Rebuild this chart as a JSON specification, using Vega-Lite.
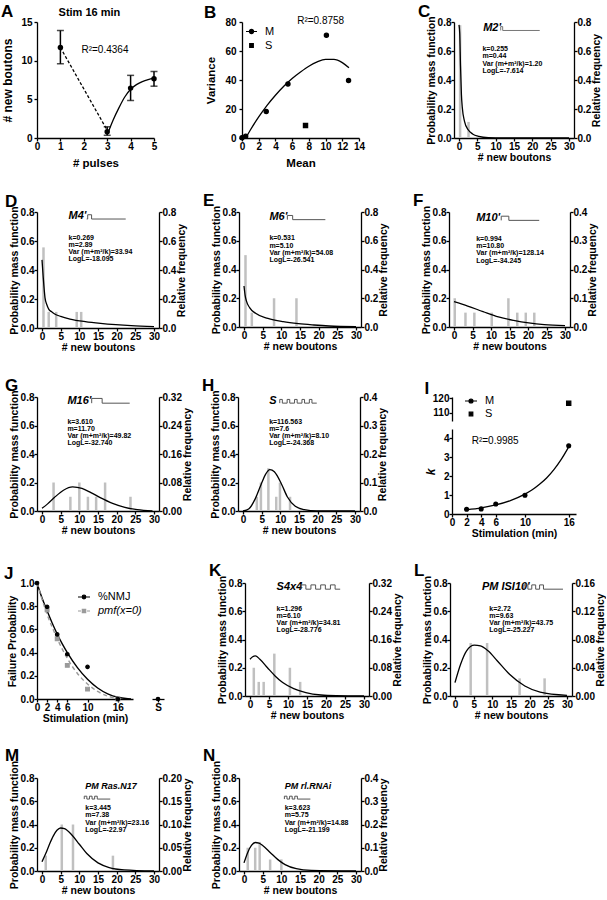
{
"$schema":"https://vega.github.io/schema/vega-lite/v6.json",
"background":"white",
"padding":{"left":0,"top":2,"right":0,"bottom":0},
"config":{
 "font":"Liberation Sans",
 "view":{"stroke":null},
 "axis":{"labelFont":"Liberation Sans","labelFontSize":10,"labelFontWeight":"bold","labelColor":"black","titleFont":"Liberation Sans","titleFontSize":10.5,"titleFontWeight":"bold","titleColor":"black","domainColor":"black","domainWidth":1.3,"tickColor":"black","tickWidth":1.3,"tickSize":3,"grid":false,"labelFlush":false,"labelPadding":0,"titlePadding":1,"labelOverlap":false},
 "title":{"anchor":"start","frame":"bounds","fontSize":17,"fontWeight":"bold","offset":-5,"dx":-8,"color":"black","font":"Liberation Sans"},
 "legend":{"labelFont":"Liberation Sans","labelFontSize":11,"labelColor":"black","padding":0,"rowPadding":3,"labelOffset":7}
},
"datasets":{
 "A_pts":[{"pulses":1,"boutons":11.7,"low":9.6,"high":13.9},{"pulses":3,"boutons":0.8,"low":0.35,"high":1.45},{"pulses":4,"boutons":6.45,"low":4.85,"high":8.1},{"pulses":5,"boutons":7.65,"low":6.7,"high":8.6}],
 "A_dash":[{"pulses":1,"boutons":11.7},{"pulses":3,"boutons":1.0}],
 "A_fit":[{"pulses":3,"boutons":0.4},{"pulses":3.25,"boutons":2.3},{"pulses":3.5,"boutons":3.9},{"pulses":3.75,"boutons":5.3},{"pulses":4,"boutons":6.3},{"pulses":4.25,"boutons":6.9},{"pulses":4.5,"boutons":7.3},{"pulses":4.75,"boutons":7.55},{"pulses":5,"boutons":7.7}],
 "B_pts":[{"mean":0,"variance":0.2,"seriesB":"M"},{"mean":0.44,"variance":1.2,"seriesB":"M"},{"mean":2.9,"variance":18.3,"seriesB":"M"},{"mean":5.5,"variance":37.2,"seriesB":"M"},{"mean":10.1,"variance":70.8,"seriesB":"M"},{"mean":12.75,"variance":39.7,"seriesB":"M"},{"mean":7.6,"variance":8.6,"seriesB":"S"}],
 "B_fit":[{"mean":0.5,"variance":0.5},{"mean":1,"variance":5.5},{"mean":2,"variance":14.5},{"mean":3,"variance":22.5},{"mean":4,"variance":29.5},{"mean":5,"variance":35.7},{"mean":6,"variance":41},{"mean":7,"variance":45.5},{"mean":8,"variance":49.5},{"mean":9,"variance":52.5},{"mean":10,"variance":54.2},{"mean":11,"variance":54.2},{"mean":12,"variance":52},{"mean":12.8,"variance":48.5}],
 "C_bars":[{"x":0.3,"freq":0.778},{"x":2.6,"freq":0.111}],
 "C_pmf":[{"x":0,"pmf":0.78},{"x":0.2,"pmf":0.72},{"x":0.41,"pmf":0.5},{"x":0.66,"pmf":0.3},{"x":0.9,"pmf":0.21},{"x":1.5,"pmf":0.115},{"x":2.5,"pmf":0.057},{"x":3.7,"pmf":0.028},{"x":5.4,"pmf":0.011},{"x":8,"pmf":0.002},{"x":12,"pmf":0},{"x":30,"pmf":0}],
 "D_bars":[{"x":0.4,"freq":0.556},{"x":1.8,"freq":0.111},{"x":3.8,"freq":0.111},{"x":9.3,"freq":0.111},{"x":10.5,"freq":0.111}],
 "D_pmf":[{"x":0,"pmf":0.47},{"x":0.3,"pmf":0.36},{"x":0.8,"pmf":0.21},{"x":1.3,"pmf":0.16},{"x":1.8,"pmf":0.13},{"x":2.5,"pmf":0.113},{"x":3.4,"pmf":0.097},{"x":5,"pmf":0.08},{"x":7.5,"pmf":0.062},{"x":11.6,"pmf":0.044},{"x":15.7,"pmf":0.032},{"x":19.8,"pmf":0.023},{"x":23.9,"pmf":0.016},{"x":30,"pmf":0.009}],
 "E_bars":[{"x":0.4,"freq":0.5},{"x":2.1,"freq":0.1},{"x":8.05,"freq":0.2},{"x":14.05,"freq":0.2}],
 "E_pmf":[{"x":0,"pmf":0.285},{"x":0.3,"pmf":0.22},{"x":0.66,"pmf":0.18},{"x":1.5,"pmf":0.135},{"x":3.1,"pmf":0.095},{"x":6.4,"pmf":0.06},{"x":10.5,"pmf":0.037},{"x":14.6,"pmf":0.023},{"x":18.7,"pmf":0.014},{"x":22.8,"pmf":0.007},{"x":30,"pmf":0.002}],
 "F_bars":[{"x":0.2,"freq":0.1},{"x":3.1,"freq":0.05},{"x":5.5,"freq":0.05},{"x":10.2,"freq":0.05},{"x":14.7,"freq":0.1},{"x":17.1,"freq":0.05},{"x":19.4,"freq":0.05},{"x":21.7,"freq":0.05}],
 "F_pmf":[{"x":0,"pmf":0.176},{"x":3.7,"pmf":0.146},{"x":7.85,"pmf":0.107},{"x":12,"pmf":0.07},{"x":16.1,"pmf":0.046},{"x":20.2,"pmf":0.028},{"x":24.4,"pmf":0.016},{"x":30,"pmf":0.009}],
 "G_bars":[{"x":3.1,"freq":0.08},{"x":7.6,"freq":0.04},{"x":10.0,"freq":0.08},{"x":12.3,"freq":0.04},{"x":14.5,"freq":0.04},{"x":16.9,"freq":0.08},{"x":23.7,"freq":0.04}],
 "G_pmf":[{"x":0,"pmf":0.019},{"x":1.5,"pmf":0.05},{"x":3.3,"pmf":0.094},{"x":5.75,"pmf":0.146},{"x":8.2,"pmf":0.169},{"x":10.7,"pmf":0.158},{"x":13.1,"pmf":0.129},{"x":15.6,"pmf":0.094},{"x":18.9,"pmf":0.054},{"x":22.2,"pmf":0.026},{"x":25.5,"pmf":0.009},{"x":29.6,"pmf":0.001}],
 "H_bars":[{"x":3.7,"freq":0.05},{"x":4.8,"freq":0.1},{"x":6.8,"freq":0.15},{"x":8.9,"freq":0.05},{"x":9.9,"freq":0.1},{"x":12.6,"freq":0.05}],
 "H_pmf":[{"x":0,"pmf":0},{"x":1.6,"pmf":0.016},{"x":3.3,"pmf":0.087},{"x":4.9,"pmf":0.19},{"x":6.0,"pmf":0.255},{"x":7.2,"pmf":0.29},{"x":8.4,"pmf":0.275},{"x":10.3,"pmf":0.19},{"x":11.9,"pmf":0.098},{"x":14,"pmf":0.033},{"x":16.4,"pmf":0.009},{"x":19.7,"pmf":0},{"x":30,"pmf":0}],
 "I_M":[{"stim":2,"k":0.255,"seriesI":"M"},{"stim":4,"k":0.269,"seriesI":"M"},{"stim":6,"k":0.531,"seriesI":"M"},{"stim":10,"k":0.994,"seriesI":"M"},{"stim":16,"k":3.61,"seriesI":"M"}],
 "I_S":[{"stim":16,"k":116.563,"seriesI":"S"}],
 "I_fit":[{"stim":2,"k":0.22},{"stim":4,"k":0.32},{"stim":6,"k":0.48},{"stim":8,"k":0.71},{"stim":10,"k":1.05},{"stim":11,"k":1.28},{"stim":12,"k":1.57},{"stim":13,"k":1.92},{"stim":14,"k":2.36},{"stim":15,"k":2.9},{"stim":16,"k":3.55}],
 "J_pts":[{"stim":2,"fail":0.77,"seriesJ":"pmf(x=0)"},{"stim":4,"fail":0.52,"seriesJ":"pmf(x=0)"},{"stim":6,"fail":0.29,"seriesJ":"pmf(x=0)"},{"stim":10,"fail":0.085,"seriesJ":"pmf(x=0)"},{"stim":16,"fail":0,"seriesJ":"pmf(x=0)"},{"stim":0,"fail":1.0,"seriesJ":"%NMJ"},{"stim":2,"fail":0.795,"seriesJ":"%NMJ"},{"stim":4,"fail":0.557,"seriesJ":"%NMJ"},{"stim":6,"fail":0.386,"seriesJ":"%NMJ"},{"stim":10,"fail":0.277,"seriesJ":"%NMJ"},{"stim":16,"fail":0,"seriesJ":"%NMJ"}],
 "J_fitN":[{"stim":0,"fail":1.0},{"stim":1,"fail":0.87},{"stim":2,"fail":0.76},{"stim":3,"fail":0.655},{"stim":4,"fail":0.56},{"stim":5,"fail":0.475},{"stim":6,"fail":0.4},{"stim":8,"fail":0.27},{"stim":10,"fail":0.17},{"stim":12,"fail":0.095},{"stim":14,"fail":0.045},{"stim":16,"fail":0.015},{"stim":18,"fail":0.002},{"stim":18.6,"fail":0}],
 "J_fitP":[{"stim":0,"fail":1.0},{"stim":2,"fail":0.73},{"stim":4,"fail":0.52},{"stim":6,"fail":0.35},{"stim":8,"fail":0.22},{"stim":10,"fail":0.13},{"stim":12,"fail":0.065},{"stim":14,"fail":0.025},{"stim":16,"fail":0.005},{"stim":17,"fail":0}],
 "J_S":[{"condition":"S","fail":0}],
 "K_bars":[{"x":1.0,"freq":0.08},{"x":2.3,"freq":0.04},{"x":3.6,"freq":0.04},{"x":6.4,"freq":0.12},{"x":10.5,"freq":0.08},{"x":13.2,"freq":0.04}],
 "K_pmf":[{"x":0,"pmf":0.26},{"x":0.7,"pmf":0.278},{"x":1.4,"pmf":0.284},{"x":2.6,"pmf":0.26},{"x":4.6,"pmf":0.2},{"x":6.6,"pmf":0.142},{"x":8.6,"pmf":0.095},{"x":11.5,"pmf":0.052},{"x":14.7,"pmf":0.024},{"x":18.7,"pmf":0.007},{"x":22.7,"pmf":0.002},{"x":30,"pmf":0}],
 "L_bars":[{"x":4.2,"freq":0.075},{"x":8.6,"freq":0.075},{"x":17.3,"freq":0.025},{"x":24.0,"freq":0.025}],
 "L_pmf":[{"x":0,"pmf":0.095},{"x":1.5,"pmf":0.225},{"x":3.1,"pmf":0.32},{"x":5.2,"pmf":0.36},{"x":6.8,"pmf":0.355},{"x":8.85,"pmf":0.32},{"x":11.3,"pmf":0.25},{"x":14.6,"pmf":0.154},{"x":18.7,"pmf":0.071},{"x":22.8,"pmf":0.028},{"x":30,"pmf":0.005}],
 "M_bars":[{"x":1,"freq":0.033},{"x":5.3,"freq":0.1},{"x":8.3,"freq":0.1},{"x":19,"freq":0.033}],
 "M_pmf":[{"x":0,"pmf":0.08},{"x":1,"pmf":0.15},{"x":2,"pmf":0.23},{"x":3,"pmf":0.3},{"x":4,"pmf":0.35},{"x":5,"pmf":0.37},{"x":6,"pmf":0.365},{"x":8,"pmf":0.31},{"x":10,"pmf":0.23},{"x":12,"pmf":0.15},{"x":15,"pmf":0.07},{"x":18,"pmf":0.03},{"x":22,"pmf":0.01},{"x":30,"pmf":0}],
 "N_bars":[{"x":1,"freq":0.1},{"x":3,"freq":0.1},{"x":4.2,"freq":0.125},{"x":7,"freq":0.05},{"x":10,"freq":0.05}],
 "N_pmf":[{"x":0,"pmf":0.07},{"x":1,"pmf":0.16},{"x":2,"pmf":0.22},{"x":3,"pmf":0.245},{"x":4,"pmf":0.24},{"x":5,"pmf":0.22},{"x":7,"pmf":0.16},{"x":9,"pmf":0.1},{"x":11,"pmf":0.055},{"x":14,"pmf":0.02},{"x":18,"pmf":0.005},{"x":30,"pmf":0}]
},
"resolve":{"scale":{"shape":"independent","color":"independent"}},
"spacing":23,
"vconcat":[
 {"resolve":{"scale":{"shape":"independent","color":"independent"}},"spacing":53,"hconcat":[
  {"resolve":{"scale":{"shape":"independent","color":"independent"}},"spacing":45,"hconcat":[
   {"title":{"text":"A","dx":-1,"offset":-14},"width":117,"height":116,"layer":[
    {"encoding":{"x":{"field":"pulses","type":"quantitative","scale":{"domain":[0,5],"nice":false},"axis":{"values":[0,1,2,3,4,5],"title":"# pulses","titleFontSize":11.5,"labelOverlap":false,"titlePadding":6}},"y":{"field":"boutons","type":"quantitative","scale":{"domain":[0,15],"nice":false},"axis":{"values":[0,5,10,15],"title":"# new boutons","titleFontSize":12,"labelOverlap":false,"titlePadding":6,"labelPadding":2}}},
     "layer":[
      {"data":{"name":"A_dash"},"mark":{"type":"line","color":"black","strokeWidth":1.3,"strokeDash":[3,2]}},
      {"data":{"name":"A_fit"},"mark":{"type":"line","color":"black","strokeWidth":1.3,"interpolate":"monotone"}},
      {"data":{"name":"A_pts"},"mark":{"type":"errorbar","color":"black","ticks":{"size":7},"thickness":1.5},"encoding":{"y":{"field":"low"},"y2":{"field":"high"}}},
      {"data":{"name":"A_pts"},"mark":{"type":"point","filled":true,"color":"black","size":30,"opacity":1}}
     ]},
    {"data":{"values":[{}]},"mark":{"type":"text","text":"R²=0.4364","align":"left","baseline":"middle","fontSize":10},"encoding":{"x":{"datum":1.9,"type":"quantitative","axis":{"values":[0,1,2,3,4,5],"title":"# pulses","titleFontSize":11.5,"labelOverlap":false,"titlePadding":6}},"y":{"datum":11.4,"type":"quantitative","axis":{"values":[0,5,10,15],"title":"# new boutons","titleFontSize":12,"labelOverlap":false,"titlePadding":6,"labelPadding":2}}}},
    {"data":{"values":[{}]},"mark":{"type":"text","text":"Stim 16 min","align":"center","baseline":"middle","fontSize":11,"fontWeight":"bold"},"encoding":{"x":{"datum":2.24,"type":"quantitative","axis":{"values":[0,1,2,3,4,5],"title":"# pulses","titleFontSize":11.5,"labelOverlap":false,"titlePadding":6}},"y":{"datum":16.2,"type":"quantitative","axis":{"values":[0,5,10,15],"title":"# new boutons","titleFontSize":12,"labelOverlap":false,"titlePadding":6,"labelPadding":2}}}}
   ]},
   {"title":{"text":"B","dx":-2,"offset":-6},"width":117,"height":116,"layer":[
    {"resolve":{"scale":{"color":"independent"}},"encoding":{"x":{"field":"mean","type":"quantitative","scale":{"domain":[0,14],"nice":false},"axis":{"values":[0,2,4,6,8,10,12,14],"title":"Mean","titleFontSize":11.5,"labelOverlap":false,"titlePadding":6}},"y":{"field":"variance","type":"quantitative","scale":{"domain":[0,80],"nice":false},"axis":{"values":[0,20,40,60,80],"title":"Variance","titleFontSize":11.5,"labelOverlap":false,"titlePadding":8,"labelPadding":3}}},
     "layer":[
      {"data":{"name":"B_fit"},"mark":{"type":"line","color":"black","strokeWidth":1.3,"interpolate":"monotone"}},
      {"data":{"name":"B_pts"},"transform":[{"filter":"datum.seriesB === 'M'"}],"mark":{"type":"point","shape":"circle","filled":true,"size":18,"opacity":1,"stroke":"black","strokeWidth":1.2},"encoding":{"color":{"field":"seriesB","type":"nominal","scale":{"domain":["M"],"range":["black"]},"legend":{"title":null,"orient":"none","legendX":3,"legendY":3,"symbolType":"M-1,0H1M0.38,0A0.38,0.38,0,1,1,-0.38,0A0.38,0.38,0,1,1,0.38,0Z","symbolSize":121,"symbolStrokeColor":"black","symbolStrokeWidth":1.2,"labelFontSize":11}}}},
      {"data":{"name":"B_pts"},"transform":[{"filter":"datum.seriesB === 'S'"}],"mark":{"type":"point","shape":"square","filled":true,"size":18,"opacity":1,"stroke":"black","strokeWidth":1.2},"encoding":{"color":{"field":"seriesB","type":"nominal","scale":{"domain":["S"],"range":["black"]},"legend":{"title":null,"orient":"none","legendX":3,"legendY":17,"symbolType":"M-0.33,-0.33H0.33V0.33H-0.33Z","symbolSize":121,"symbolStrokeColor":"black","symbolStrokeWidth":1.2,"labelFontSize":11}}}}
     ]},
    {"data":{"values":[{}]},"mark":{"type":"text","text":"R²=0.8758","align":"left","baseline":"middle","fontSize":10},"encoding":{"x":{"datum":6.6,"type":"quantitative","axis":{"values":[0,2,4,6,8,10,12,14],"title":"Mean","titleFontSize":11.5,"labelOverlap":false,"titlePadding":6}},"y":{"datum":81,"type":"quantitative","axis":{"values":[0,20,40,60,80],"title":"Variance","titleFontSize":11.5,"labelOverlap":false,"titlePadding":8,"labelPadding":3}}}}
   ]}
  ]},
  {"title":"C","width":120,"height":116,"resolve":{"scale":{"y":"independent"}},"layer":[
   {"data":{"name":"C_bars"},"mark":{"type":"bar","size":2.5,"color":"#c0c0c0"},"encoding":{"x":{"field":"x","type":"quantitative","scale":{"domain":[0,30],"nice":false},"axis":{"values":[0,5,10,15,20,25,30],"title":"# new boutons","labelOverlap":false}},"y":{"field":"freq","type":"quantitative","scale":{"domain":[0,0.8],"nice":false},"axis":{"orient":"right","values":[0,0.2,0.4,0.6,0.8],"format":".1f","title":"Relative frequency","titleAngle":270,"titleBaseline":"top","labelOverlap":false}}}},
   {"layer":[
    {"data":{"name":"C_pmf"},"mark":{"type":"line","color":"black","strokeWidth":1.3,"interpolate":"monotone"},"encoding":{"x":{"field":"x","type":"quantitative","scale":{"domain":[0,30],"nice":false},"axis":{"values":[0,5,10,15,20,25,30],"title":"# new boutons","labelOverlap":false}},"y":{"field":"pmf","type":"quantitative","scale":{"domain":[0,0.8],"nice":false},"axis":{"orient":"left","values":[0,0.2,0.4,0.6,0.8],"format":".1f","title":"Probability mass function","labelOverlap":false}}}},
    {"data":{"values":[{}]},"mark":{"type":"text","text":"M2'","align":"left","baseline":"middle","fontSize":11,"fontWeight":"bold","fontStyle":"italic"},"encoding":{"x":{"datum":6.6,"type":"quantitative","axis":{"values":[0,5,10,15,20,25,30],"title":"# new boutons","labelOverlap":false}},"y":{"datum":0.76,"type":"quantitative","axis":{"orient":"left","values":[0,0.2,0.4,0.6,0.8],"format":".1f","title":"Probability mass function","labelOverlap":false}}}},
    {"data":{"values":[{}]},"mark":{"type":"point","shape":"M-1,0.1V-0.1H-0.9V0.1H1","size":1521,"filled":false,"color":"#777","strokeWidth":1,"opacity":1},"encoding":{"x":{"datum":16.7,"type":"quantitative","axis":{"values":[0,5,10,15,20,25,30],"title":"# new boutons","labelOverlap":false}},"y":{"datum":0.755,"type":"quantitative","axis":{"orient":"left","values":[0,0.2,0.4,0.6,0.8],"format":".1f","title":"Probability mass function","labelOverlap":false}}}},
    {"data":{"values":[{}]},"mark":{"type":"text","text":["k=0.255","m=0.44","Var (m+m²/k)=1.20","LogL=-7.614"],"align":"left","baseline":"top","fontSize":7,"fontWeight":"bold","lineHeight":7.2},"encoding":{"x":{"datum":6.4,"type":"quantitative","axis":{"values":[0,5,10,15,20,25,30],"title":"# new boutons","labelOverlap":false}},"y":{"datum":0.64,"type":"quantitative","axis":{"orient":"left","values":[0,0.2,0.4,0.6,0.8],"format":".1f","title":"Probability mass function","labelOverlap":false}}}}
   ]}
  ]}
 ]},
 {"resolve":{"scale":{"shape":"independent","color":"independent"}},"spacing":23,"hconcat":[
  {"resolve":{"scale":{"shape":"independent","color":"independent"}},"spacing":15,"hconcat":[
   {"title":{"text":"D","dx":-4},"width":122,"height":116,"resolve":{"scale":{"y":"independent"}},"layer":[
    {"data":{"name":"D_bars"},"mark":{"type":"bar","size":2.5,"color":"#c0c0c0"},"encoding":{"x":{"field":"x","type":"quantitative","scale":{"domain":[0,30],"nice":false},"axis":{"values":[0,5,10,15,20,25,30],"title":"# new boutons","labelOverlap":false}},"y":{"field":"freq","type":"quantitative","scale":{"domain":[0,0.8],"nice":false},"axis":{"orient":"right","values":[0,0.2,0.4,0.6,0.8],"format":".1f","title":"Relative frequency","titleAngle":270,"titleBaseline":"top","labelOverlap":false}}}},
    {"layer":[
     {"data":{"name":"D_pmf"},"mark":{"type":"line","color":"black","strokeWidth":1.3,"interpolate":"monotone"},"encoding":{"x":{"field":"x","type":"quantitative","scale":{"domain":[0,30],"nice":false},"axis":{"values":[0,5,10,15,20,25,30],"title":"# new boutons","labelOverlap":false}},"y":{"field":"pmf","type":"quantitative","scale":{"domain":[0,0.8],"nice":false},"axis":{"orient":"left","values":[0,0.2,0.4,0.6,0.8],"format":".1f","title":"Probability mass function","labelOverlap":false}}}},
     {"data":{"values":[{}]},"mark":{"type":"text","text":"M4'","align":"left","baseline":"middle","fontSize":11,"fontWeight":"bold","fontStyle":"italic"},"encoding":{"x":{"datum":7.1,"type":"quantitative","axis":{"values":[0,5,10,15,20,25,30],"title":"# new boutons","labelOverlap":false}},"y":{"datum":0.77,"type":"quantitative","axis":{"orient":"left","values":[0,0.2,0.4,0.6,0.8],"format":".1f","title":"Probability mass function","labelOverlap":false}}}},
     {"data":{"values":[{}]},"mark":{"type":"point","shape":"M-1,0.1H-0.95V-0.12H-0.75V0.1H1","size":1521,"filled":false,"color":"#555","strokeWidth":1,"opacity":1},"encoding":{"x":{"datum":17.2,"type":"quantitative","axis":{"values":[0,5,10,15,20,25,30],"title":"# new boutons","labelOverlap":false}},"y":{"datum":0.765,"type":"quantitative","axis":{"orient":"left","values":[0,0.2,0.4,0.6,0.8],"format":".1f","title":"Probability mass function","labelOverlap":false}}}},
     {"data":{"values":[{}]},"mark":{"type":"text","text":["k=0.269","m=2.89","Var (m+m²/k)=33.94","LogL=-18.095"],"align":"left","baseline":"top","fontSize":7,"fontWeight":"bold","lineHeight":7.2},"encoding":{"x":{"datum":7.1,"type":"quantitative","axis":{"values":[0,5,10,15,20,25,30],"title":"# new boutons","labelOverlap":false}},"y":{"datum":0.65,"type":"quantitative","axis":{"orient":"left","values":[0,0.2,0.4,0.6,0.8],"format":".1f","title":"Probability mass function","labelOverlap":false}}}}
    ]}
   ]},
   {"title":"E","width":122,"height":115,"resolve":{"scale":{"y":"independent"}},"layer":[
    {"data":{"name":"E_bars"},"mark":{"type":"bar","size":2.5,"color":"#c0c0c0"},"encoding":{"x":{"field":"x","type":"quantitative","scale":{"domain":[0,30],"nice":false},"axis":{"values":[0,5,10,15,20,25,30],"title":"# new boutons","labelOverlap":false}},"y":{"field":"freq","type":"quantitative","scale":{"domain":[0,0.8],"nice":false},"axis":{"orient":"right","values":[0,0.2,0.4,0.6,0.8],"format":".1f","title":"Relative frequency","titleAngle":270,"titleBaseline":"top","labelOverlap":false}}}},
    {"layer":[
     {"data":{"name":"E_pmf"},"mark":{"type":"line","color":"black","strokeWidth":1.3,"interpolate":"monotone"},"encoding":{"x":{"field":"x","type":"quantitative","scale":{"domain":[0,30],"nice":false},"axis":{"values":[0,5,10,15,20,25,30],"title":"# new boutons","labelOverlap":false}},"y":{"field":"pmf","type":"quantitative","scale":{"domain":[0,0.8],"nice":false},"axis":{"orient":"left","values":[0,0.2,0.4,0.6,0.8],"format":".1f","title":"Probability mass function","labelOverlap":false}}}},
     {"data":{"values":[{}]},"mark":{"type":"text","text":"M6'","align":"left","baseline":"middle","fontSize":11,"fontWeight":"bold","fontStyle":"italic"},"encoding":{"x":{"datum":6.8,"type":"quantitative","axis":{"values":[0,5,10,15,20,25,30],"title":"# new boutons","labelOverlap":false}},"y":{"datum":0.765,"type":"quantitative","axis":{"orient":"left","values":[0,0.2,0.4,0.6,0.8],"format":".1f","title":"Probability mass function","labelOverlap":false}}}},
     {"data":{"values":[{}]},"mark":{"type":"point","shape":"M-1,0.1V-0.12H-0.72V0.1H1","size":1444,"filled":false,"color":"#555","strokeWidth":1,"opacity":1},"encoding":{"x":{"datum":16.7,"type":"quantitative","axis":{"values":[0,5,10,15,20,25,30],"title":"# new boutons","labelOverlap":false}},"y":{"datum":0.76,"type":"quantitative","axis":{"orient":"left","values":[0,0.2,0.4,0.6,0.8],"format":".1f","title":"Probability mass function","labelOverlap":false}}}},
     {"data":{"values":[{}]},"mark":{"type":"text","text":["k=0.531","m=5.10","Var (m+m²/k)=54.08","LogL=-26.541"],"align":"left","baseline":"top","fontSize":7,"fontWeight":"bold","lineHeight":7.2},"encoding":{"x":{"datum":6.8,"type":"quantitative","axis":{"values":[0,5,10,15,20,25,30],"title":"# new boutons","labelOverlap":false}},"y":{"datum":0.644,"type":"quantitative","axis":{"orient":"left","values":[0,0.2,0.4,0.6,0.8],"format":".1f","title":"Probability mass function","labelOverlap":false}}}}
    ]}
   ]}
  ]},
  {"title":"F","width":121,"height":115,"resolve":{"scale":{"y":"independent"}},"layer":[
   {"data":{"name":"F_bars"},"mark":{"type":"bar","size":2.5,"color":"#c0c0c0"},"encoding":{"x":{"field":"x","type":"quantitative","scale":{"domain":[0,30],"nice":false},"axis":{"values":[0,5,10,15,20,25,30],"title":"# new boutons","labelOverlap":false}},"y":{"field":"freq","type":"quantitative","scale":{"domain":[0,0.4],"nice":false},"axis":{"orient":"right","values":[0,0.1,0.2,0.3,0.4],"format":".1f","title":"Relative frequency","titleAngle":270,"titleBaseline":"top","labelOverlap":false}}}},
   {"layer":[
    {"data":{"name":"F_pmf"},"mark":{"type":"line","color":"black","strokeWidth":1.3,"interpolate":"monotone"},"encoding":{"x":{"field":"x","type":"quantitative","scale":{"domain":[0,30],"nice":false},"axis":{"values":[0,5,10,15,20,25,30],"title":"# new boutons","labelOverlap":false}},"y":{"field":"pmf","type":"quantitative","scale":{"domain":[0,0.8],"nice":false},"axis":{"orient":"left","values":[0,0.2,0.4,0.6,0.8],"format":".1f","title":"Probability mass function","labelOverlap":false}}}},
    {"data":{"values":[{}]},"mark":{"type":"text","text":"M10'","align":"left","baseline":"middle","fontSize":11,"fontWeight":"bold","fontStyle":"italic"},"encoding":{"x":{"datum":6.0,"type":"quantitative","axis":{"values":[0,5,10,15,20,25,30],"title":"# new boutons","labelOverlap":false}},"y":{"datum":0.76,"type":"quantitative","axis":{"orient":"left","values":[0,0.2,0.4,0.6,0.8],"format":".1f","title":"Probability mass function","labelOverlap":false}}}},
    {"data":{"values":[{}]},"mark":{"type":"point","shape":"M-1,0.1V-0.12H-0.6V0.1H1","size":1444,"filled":false,"color":"#555","strokeWidth":1,"opacity":1},"encoding":{"x":{"datum":17.9,"type":"quantitative","axis":{"values":[0,5,10,15,20,25,30],"title":"# new boutons","labelOverlap":false}},"y":{"datum":0.755,"type":"quantitative","axis":{"orient":"left","values":[0,0.2,0.4,0.6,0.8],"format":".1f","title":"Probability mass function","labelOverlap":false}}}},
    {"data":{"values":[{}]},"mark":{"type":"text","text":["k=0.994","m=10.80","Var (m+m²/k)=128.14","LogL=-34.245"],"align":"left","baseline":"top","fontSize":7,"fontWeight":"bold","lineHeight":7.2},"encoding":{"x":{"datum":6.0,"type":"quantitative","axis":{"values":[0,5,10,15,20,25,30],"title":"# new boutons","labelOverlap":false}},"y":{"datum":0.64,"type":"quantitative","axis":{"orient":"left","values":[0,0.2,0.4,0.6,0.8],"format":".1f","title":"Probability mass function","labelOverlap":false}}}}
   ]}
  ]}
 ]},
 {"resolve":{"scale":{"shape":"independent","color":"independent"}},"spacing":35,"hconcat":[
  {"resolve":{"scale":{"shape":"independent","color":"independent"}},"spacing":9,"hconcat":[
   {"title":{"text":"G","dx":-4},"width":122,"height":114,"resolve":{"scale":{"y":"independent"}},"layer":[
    {"data":{"name":"G_bars"},"mark":{"type":"bar","size":2.5,"color":"#c0c0c0"},"encoding":{"x":{"field":"x","type":"quantitative","scale":{"domain":[0,30],"nice":false},"axis":{"values":[0,5,10,15,20,25,30],"title":"# new boutons","labelOverlap":false}},"y":{"field":"freq","type":"quantitative","scale":{"domain":[0,0.32],"nice":false},"axis":{"orient":"right","values":[0,0.08,0.16,0.24,0.32],"format":".2f","title":"Relative frequency","titleAngle":270,"titleBaseline":"top","labelOverlap":false}}}},
    {"layer":[
     {"data":{"name":"G_pmf"},"mark":{"type":"line","color":"black","strokeWidth":1.3,"interpolate":"monotone"},"encoding":{"x":{"field":"x","type":"quantitative","scale":{"domain":[0,30],"nice":false},"axis":{"values":[0,5,10,15,20,25,30],"title":"# new boutons","labelOverlap":false}},"y":{"field":"pmf","type":"quantitative","scale":{"domain":[0,0.8],"nice":false},"axis":{"orient":"left","values":[0,0.2,0.4,0.6,0.8],"format":".1f","title":"Probability mass function","labelOverlap":false}}}},
     {"data":{"values":[{}]},"mark":{"type":"text","text":"M16'","align":"left","baseline":"middle","fontSize":11,"fontWeight":"bold","fontStyle":"italic"},"encoding":{"x":{"datum":6.8,"type":"quantitative","axis":{"values":[0,5,10,15,20,25,30],"title":"# new boutons","labelOverlap":false}},"y":{"datum":0.772,"type":"quantitative","axis":{"orient":"left","values":[0,0.2,0.4,0.6,0.8],"format":".1f","title":"Probability mass function","labelOverlap":false}}}},
     {"data":{"values":[{}]},"mark":{"type":"point","shape":"M-1,0.1V-0.15H-0.45V0.1H1","size":1444,"filled":false,"color":"#555","strokeWidth":1,"opacity":1},"encoding":{"x":{"datum":18.4,"type":"quantitative","axis":{"values":[0,5,10,15,20,25,30],"title":"# new boutons","labelOverlap":false}},"y":{"datum":0.77,"type":"quantitative","axis":{"orient":"left","values":[0,0.2,0.4,0.6,0.8],"format":".1f","title":"Probability mass function","labelOverlap":false}}}},
     {"data":{"values":[{}]},"mark":{"type":"text","text":["k=3.610","m=11.70","Var (m+m²/k)=49.82","LogL=-32.740"],"align":"left","baseline":"top","fontSize":7,"fontWeight":"bold","lineHeight":7.2},"encoding":{"x":{"datum":6.8,"type":"quantitative","axis":{"values":[0,5,10,15,20,25,30],"title":"# new boutons","labelOverlap":false}},"y":{"datum":0.654,"type":"quantitative","axis":{"orient":"left","values":[0,0.2,0.4,0.6,0.8],"format":".1f","title":"Probability mass function","labelOverlap":false}}}}
    ]}
   ]},
   {"title":"H","width":122,"height":114,"resolve":{"scale":{"y":"independent"}},"layer":[
    {"data":{"name":"H_bars"},"mark":{"type":"bar","size":2.5,"color":"#c0c0c0"},"encoding":{"x":{"field":"x","type":"quantitative","scale":{"domain":[0,30],"nice":false},"axis":{"values":[0,5,10,15,20,25,30],"title":"# new boutons","labelOverlap":false}},"y":{"field":"freq","type":"quantitative","scale":{"domain":[0,0.4],"nice":false},"axis":{"orient":"right","values":[0,0.1,0.2,0.3,0.4],"format":".1f","title":"Relative frequency","titleAngle":270,"titleBaseline":"top","labelOverlap":false}}}},
    {"layer":[
     {"data":{"name":"H_pmf"},"mark":{"type":"line","color":"black","strokeWidth":1.3,"interpolate":"monotone"},"encoding":{"x":{"field":"x","type":"quantitative","scale":{"domain":[0,30],"nice":false},"axis":{"values":[0,5,10,15,20,25,30],"title":"# new boutons","labelOverlap":false}},"y":{"field":"pmf","type":"quantitative","scale":{"domain":[0,0.8],"nice":false},"axis":{"orient":"left","values":[0,0.2,0.4,0.6,0.8],"format":".1f","title":"Probability mass function","labelOverlap":false}}}},
     {"data":{"values":[{}]},"mark":{"type":"text","text":"S","align":"left","baseline":"middle","fontSize":11,"fontWeight":"bold","fontStyle":"italic"},"encoding":{"x":{"datum":7.0,"type":"quantitative","axis":{"values":[0,5,10,15,20,25,30],"title":"# new boutons","labelOverlap":false}},"y":{"datum":0.773,"type":"quantitative","axis":{"orient":"left","values":[0,0.2,0.4,0.6,0.8],"format":".1f","title":"Probability mass function","labelOverlap":false}}}},
     {"data":{"values":[{}]},"mark":{"type":"point","shape":"M-1,0.1V-0.1H-0.86V0.1H-0.6V-0.1H-0.46V0.1H-0.2V-0.1H-0.06V0.1H0.2V-0.1H0.34V0.1H0.6V-0.1H0.74V0.1H1","size":1369,"filled":false,"color":"#555","strokeWidth":1,"opacity":1},"encoding":{"x":{"datum":14.8,"type":"quantitative","axis":{"values":[0,5,10,15,20,25,30],"title":"# new boutons","labelOverlap":false}},"y":{"datum":0.77,"type":"quantitative","axis":{"orient":"left","values":[0,0.2,0.4,0.6,0.8],"format":".1f","title":"Probability mass function","labelOverlap":false}}}},
     {"data":{"values":[{}]},"mark":{"type":"text","text":["k=116.563","m=7.6","Var (m+m²/k)=8.10","LogL=-24.368"],"align":"left","baseline":"top","fontSize":7,"fontWeight":"bold","lineHeight":7.2},"encoding":{"x":{"datum":7.0,"type":"quantitative","axis":{"values":[0,5,10,15,20,25,30],"title":"# new boutons","labelOverlap":false}},"y":{"datum":0.655,"type":"quantitative","axis":{"orient":"left","values":[0,0.2,0.4,0.6,0.8],"format":".1f","title":"Probability mass function","labelOverlap":false}}}}
    ]}
   ]}
  ]},
  {"title":{"text":"I","dx":0},"spacing":8,"resolve":{"scale":{"shape":"independent","color":"independent"}},"vconcat":[
   {"width":124,"height":24,"resolve":{"scale":{"color":"independent"}},"encoding":{"x":{"field":"stim","type":"quantitative","scale":{"domain":[0,17],"nice":false},"axis":null},"y":{"field":"k","type":"quantitative","scale":{"domain":[104,121],"nice":false},"axis":{"values":[110,120],"title":null,"labelOverlap":false}}},"layer":[
    {"data":{"name":"I_M"},"mark":{"type":"point","shape":"circle","filled":true,"size":18,"opacity":1,"stroke":"black","strokeWidth":1.2,"clip":true},"encoding":{"color":{"field":"seriesI","type":"nominal","scale":{"domain":["M"],"range":["black"]},"legend":{"title":null,"orient":"none","legendX":12,"legendY":-3,"symbolType":"M-1,0H1M0.33,0A0.33,0.33,0,1,1,-0.33,0A0.33,0.33,0,1,1,0.33,0Z","symbolSize":144,"symbolStrokeColor":"black","symbolStrokeWidth":1.2,"labelFontSize":11}}}},
    {"data":{"name":"I_S"},"mark":{"type":"point","shape":"square","filled":true,"size":18,"opacity":1,"stroke":"black","strokeWidth":1.2},"encoding":{"color":{"field":"seriesI","type":"nominal","scale":{"domain":["S"],"range":["black"]},"legend":{"title":null,"orient":"none","legendX":12,"legendY":10,"symbolType":"M-0.3,-0.3H0.3V0.3H-0.3Z","symbolSize":144,"symbolStrokeColor":"black","symbolStrokeWidth":1.2,"labelFontSize":11}}}}
   ]},
   {"width":124,"height":85,"layer":[
    {"encoding":{"x":{"field":"stim","type":"quantitative","scale":{"domain":[0,17],"nice":false},"axis":{"values":[0,2,4,6,10,16],"title":"Stimulation (min)","labelOverlap":false}},"y":{"field":"k","type":"quantitative","scale":{"domain":[0,4.5],"nice":false},"axis":{"values":[0,1,2,3,4],"title":"k","titleFontStyle":"italic","titleFontSize":12,"labelOverlap":false,"titlePadding":6}}},
     "layer":[
      {"data":{"name":"I_fit"},"mark":{"type":"line","color":"black","strokeWidth":1.3,"interpolate":"monotone"}},
      {"data":{"name":"I_M"},"mark":{"type":"point","filled":true,"color":"black","size":26,"opacity":1}}
     ]},
    {"data":{"values":[{}]},"mark":{"type":"text","text":"R²=0.9985","align":"left","baseline":"middle","fontSize":10},"encoding":{"x":{"datum":2.7,"type":"quantitative","axis":{"values":[0,2,4,6,10,16],"title":"Stimulation (min)","labelOverlap":false}},"y":{"datum":3.86,"type":"quantitative","axis":{"values":[0,1,2,3,4],"title":"k","titleFontStyle":"italic","titleFontSize":12,"labelOverlap":false,"titlePadding":6}}}}
   ]}
  ]}
 ]},
 {"resolve":{"scale":{"shape":"independent","color":"independent"}},"spacing":11,"hconcat":[
  {"resolve":{"scale":{"shape":"independent","color":"independent"}},"spacing":45,"hconcat":[
   {"title":{"text":"J","dx":-3},"spacing":10,"resolve":{"scale":{"shape":"independent","color":"independent"}},"hconcat":[
    {"width":96,"height":116,"resolve":{"scale":{"color":"independent"}},"encoding":{"x":{"field":"stim","type":"quantitative","scale":{"domain":[0,19],"nice":false},"axis":{"values":[0,2,4,6,10,16],"title":"Stimulation (min)","labelOverlap":false}},"y":{"field":"fail","type":"quantitative","scale":{"domain":[0,1],"nice":false},"axis":{"values":[0,0.2,0.4,0.6,0.8,1],"format":".1f","title":"Failure Probability","labelOverlap":false,"titlePadding":3}}},"layer":[
     {"data":{"name":"J_fitN"},"mark":{"type":"line","color":"black","strokeWidth":1.4,"interpolate":"monotone"}},
     {"data":{"name":"J_fitP"},"mark":{"type":"line","color":"#9a9a9a","strokeWidth":1.4,"strokeDash":[4,3],"interpolate":"monotone"}},
     {"data":{"name":"J_pts"},"transform":[{"filter":"datum.seriesJ === 'pmf(x=0)'"}],"mark":{"type":"point","shape":"square","filled":true,"size":14,"opacity":1,"stroke":"#9a9a9a","strokeWidth":1.2},"encoding":{"color":{"field":"seriesJ","type":"nominal","scale":{"domain":["pmf(x=0)"],"range":["#9a9a9a"]},"legend":{"title":null,"orient":"none","legendX":40,"legendY":21,"symbolType":"M-1,0H-0.5M0.5,0H1M-0.28,-0.28H0.28V0.28H-0.28Z","symbolSize":144,"symbolStrokeColor":"#9a9a9a","symbolStrokeWidth":1.2,"labelFontSize":11,"labelFontStyle":"italic"}}}},
     {"data":{"name":"J_pts"},"transform":[{"filter":"datum.seriesJ === '%NMJ'"}],"mark":{"type":"point","shape":"circle","filled":true,"size":12,"opacity":1,"stroke":"black","strokeWidth":1.2},"encoding":{"color":{"field":"seriesJ","type":"nominal","scale":{"domain":["%NMJ"],"range":["black"]},"legend":{"title":null,"orient":"none","legendX":40,"legendY":7,"symbolType":"M-1,0H1M0.3,0A0.3,0.3,0,1,1,-0.3,0A0.3,0.3,0,1,1,0.3,0Z","symbolSize":144,"symbolStrokeColor":"black","symbolStrokeWidth":1.2,"labelFontSize":11}}}}
    ]},
    {"width":12,"height":116,"data":{"name":"J_S"},"mark":{"type":"point","filled":true,"color":"black","size":22,"opacity":1},"encoding":{"x":{"field":"condition","type":"nominal","scale":{"domain":["S"]},"axis":{"title":null,"labelAngle":0}},"y":{"field":"fail","type":"quantitative","scale":{"domain":[0,1],"nice":false},"axis":null}}}
   ]},
   {"title":"K","width":124,"height":113,"resolve":{"scale":{"y":"independent"}},"layer":[
    {"data":{"name":"K_bars"},"mark":{"type":"bar","size":2.5,"color":"#c0c0c0"},"encoding":{"x":{"field":"x","type":"quantitative","scale":{"domain":[0,30],"nice":false},"axis":{"values":[0,5,10,15,20,25,30],"title":"# new boutons","labelOverlap":false}},"y":{"field":"freq","type":"quantitative","scale":{"domain":[0,0.32],"nice":false},"axis":{"orient":"right","values":[0,0.08,0.16,0.24,0.32],"format":".2f","title":"Relative frequency","titleAngle":270,"titleBaseline":"top","labelOverlap":false}}}},
    {"layer":[
     {"data":{"name":"K_pmf"},"mark":{"type":"line","color":"black","strokeWidth":1.3,"interpolate":"monotone"},"encoding":{"x":{"field":"x","type":"quantitative","scale":{"domain":[0,30],"nice":false},"axis":{"values":[0,5,10,15,20,25,30],"title":"# new boutons","labelOverlap":false}},"y":{"field":"pmf","type":"quantitative","scale":{"domain":[0,0.8],"nice":false},"axis":{"orient":"left","values":[0,0.2,0.4,0.6,0.8],"format":".1f","title":"Probability mass function","labelOverlap":false}}}},
     {"data":{"values":[{}]},"mark":{"type":"text","text":"S4x4","align":"left","baseline":"middle","fontSize":11,"fontWeight":"bold","fontStyle":"italic"},"encoding":{"x":{"datum":7.0,"type":"quantitative","axis":{"values":[0,5,10,15,20,25,30],"title":"# new boutons","labelOverlap":false}},"y":{"datum":0.774,"type":"quantitative","axis":{"orient":"left","values":[0,0.2,0.4,0.6,0.8],"format":".1f","title":"Probability mass function","labelOverlap":false}}}},
     {"data":{"values":[{}]},"mark":{"type":"point","shape":"M-1,0.1V-0.12H-0.76V0.1H-0.5V-0.12H-0.26V0.1H0V-0.12H0.24V0.1H0.5V-0.12H0.74V0.1H1","size":1521,"filled":false,"color":"#555","strokeWidth":1,"opacity":1},"encoding":{"x":{"datum":18.6,"type":"quantitative","axis":{"values":[0,5,10,15,20,25,30],"title":"# new boutons","labelOverlap":false}},"y":{"datum":0.77,"type":"quantitative","axis":{"orient":"left","values":[0,0.2,0.4,0.6,0.8],"format":".1f","title":"Probability mass function","labelOverlap":false}}}},
     {"data":{"values":[{}]},"mark":{"type":"text","text":["k=1.296","m=6.10","Var (m+m²/k)=34.81","LogL=-28.776"],"align":"left","baseline":"top","fontSize":7,"fontWeight":"bold","lineHeight":7.2},"encoding":{"x":{"datum":7.0,"type":"quantitative","axis":{"values":[0,5,10,15,20,25,30],"title":"# new boutons","labelOverlap":false}},"y":{"datum":0.646,"type":"quantitative","axis":{"orient":"left","values":[0,0.2,0.4,0.6,0.8],"format":".1f","title":"Probability mass function","labelOverlap":false}}}}
    ]}
   ]}
  ]},
  {"title":"L","width":122,"height":113,"resolve":{"scale":{"y":"independent"}},"layer":[
   {"data":{"name":"L_bars"},"mark":{"type":"bar","size":2.5,"color":"#c0c0c0"},"encoding":{"x":{"field":"x","type":"quantitative","scale":{"domain":[0,30],"nice":false},"axis":{"values":[0,5,10,15,20,25,30],"title":"# new boutons","labelOverlap":false}},"y":{"field":"freq","type":"quantitative","scale":{"domain":[0,0.16],"nice":false},"axis":{"orient":"right","values":[0,0.04,0.08,0.12,0.16],"format":".2f","title":"Relative frequency","titleAngle":270,"titleBaseline":"top","labelOverlap":false}}}},
   {"layer":[
    {"data":{"name":"L_pmf"},"mark":{"type":"line","color":"black","strokeWidth":1.3,"interpolate":"monotone"},"encoding":{"x":{"field":"x","type":"quantitative","scale":{"domain":[0,30],"nice":false},"axis":{"values":[0,5,10,15,20,25,30],"title":"# new boutons","labelOverlap":false}},"y":{"field":"pmf","type":"quantitative","scale":{"domain":[0,0.8],"nice":false},"axis":{"orient":"left","values":[0,0.2,0.4,0.6,0.8],"format":".1f","title":"Probability mass function","labelOverlap":false}}}},
    {"data":{"values":[{}]},"mark":{"type":"text","text":"PM ISI10'","align":"left","baseline":"middle","fontSize":11,"fontWeight":"bold","fontStyle":"italic"},"encoding":{"x":{"datum":7.2,"type":"quantitative","axis":{"values":[0,5,10,15,20,25,30],"title":"# new boutons","labelOverlap":false}},"y":{"datum":0.774,"type":"quantitative","axis":{"orient":"left","values":[0,0.2,0.4,0.6,0.8],"format":".1f","title":"Probability mass function","labelOverlap":false}}}},
    {"data":{"values":[{}]},"mark":{"type":"point","shape":"M-1,0.1V-0.12H-0.8V0.1H-0.6V-0.12H-0.4V0.1H-0.2V-0.12H0V0.1H1","size":1521,"filled":false,"color":"#555","strokeWidth":1,"opacity":1},"encoding":{"x":{"datum":23.7,"type":"quantitative","axis":{"values":[0,5,10,15,20,25,30],"title":"# new boutons","labelOverlap":false}},"y":{"datum":0.77,"type":"quantitative","axis":{"orient":"left","values":[0,0.2,0.4,0.6,0.8],"format":".1f","title":"Probability mass function","labelOverlap":false}}}},
    {"data":{"values":[{}]},"mark":{"type":"text","text":["k=2.72","m=9.63","Var (m+m²/k)=43.75","LogL=-25.227"],"align":"left","baseline":"top","fontSize":7,"fontWeight":"bold","lineHeight":7.2},"encoding":{"x":{"datum":9.2,"type":"quantitative","axis":{"values":[0,5,10,15,20,25,30],"title":"# new boutons","labelOverlap":false}},"y":{"datum":0.646,"type":"quantitative","axis":{"orient":"left","values":[0,0.2,0.4,0.6,0.8],"format":".1f","title":"Probability mass function","labelOverlap":false}}}}
   ]}
  ]}
 ]},
 {"resolve":{"scale":{"shape":"independent","color":"independent"}},"spacing":10,"hconcat":[
  {"title":{"text":"M","dx":-4},"width":122,"height":93,"resolve":{"scale":{"y":"independent"}},"layer":[
   {"data":{"name":"M_bars"},"mark":{"type":"bar","size":2.5,"color":"#c0c0c0"},"encoding":{"x":{"field":"x","type":"quantitative","scale":{"domain":[0,30],"nice":false},"axis":{"values":[0,5,10,15,20,25,30],"title":"# new boutons","labelOverlap":false}},"y":{"field":"freq","type":"quantitative","scale":{"domain":[0,0.2],"nice":false},"axis":{"orient":"right","values":[0,0.05,0.1,0.15,0.2],"format":".2f","title":"Relative frequency","titleAngle":270,"titleBaseline":"top","labelOverlap":false}}}},
   {"layer":[
    {"data":{"name":"M_pmf"},"mark":{"type":"line","color":"black","strokeWidth":1.3,"interpolate":"monotone"},"encoding":{"x":{"field":"x","type":"quantitative","scale":{"domain":[0,30],"nice":false},"axis":{"values":[0,5,10,15,20,25,30],"title":"# new boutons","labelOverlap":false}},"y":{"field":"pmf","type":"quantitative","scale":{"domain":[0,0.8],"nice":false},"axis":{"orient":"left","values":[0,0.2,0.4,0.6,0.8],"format":".1f","title":"Probability mass function","labelOverlap":false}}}},
    {"data":{"values":[{}]},"mark":{"type":"text","text":"PM Ras.N17","align":"left","baseline":"middle","fontSize":9,"fontWeight":"bold","fontStyle":"italic"},"encoding":{"x":{"datum":11.6,"type":"quantitative","axis":{"values":[0,5,10,15,20,25,30],"title":"# new boutons","labelOverlap":false}},"y":{"datum":0.73,"type":"quantitative","axis":{"orient":"left","values":[0,0.2,0.4,0.6,0.8],"format":".1f","title":"Probability mass function","labelOverlap":false}}}},
    {"data":{"values":[{}]},"mark":{"type":"point","shape":"M-1,0.1V-0.12H-0.8V0.1H-0.6V-0.12H-0.4V0.1H-0.2V-0.12H0V0.1H1","size":676,"filled":false,"color":"#555","strokeWidth":1,"opacity":1},"encoding":{"x":{"datum":14.8,"type":"quantitative","axis":{"values":[0,5,10,15,20,25,30],"title":"# new boutons","labelOverlap":false}},"y":{"datum":0.63,"type":"quantitative","axis":{"orient":"left","values":[0,0.2,0.4,0.6,0.8],"format":".1f","title":"Probability mass function","labelOverlap":false}}}},
    {"data":{"values":[{}]},"mark":{"type":"text","text":["k=3.445","m=7.38","Var (m+m²/k)=23.16","LogL=-22.97"],"align":"left","baseline":"top","fontSize":7,"fontWeight":"bold","lineHeight":7.2},"encoding":{"x":{"datum":11.6,"type":"quantitative","axis":{"values":[0,5,10,15,20,25,30],"title":"# new boutons","labelOverlap":false}},"y":{"datum":0.575,"type":"quantitative","axis":{"orient":"left","values":[0,0.2,0.4,0.6,0.8],"format":".1f","title":"Probability mass function","labelOverlap":false}}}}
   ]}
  ]},
  {"title":"N","width":122,"height":93,"resolve":{"scale":{"y":"independent"}},"layer":[
   {"data":{"name":"N_bars"},"mark":{"type":"bar","size":2.5,"color":"#c0c0c0"},"encoding":{"x":{"field":"x","type":"quantitative","scale":{"domain":[0,30],"nice":false},"axis":{"values":[0,5,10,15,20,25,30],"title":"# new boutons","labelOverlap":false}},"y":{"field":"freq","type":"quantitative","scale":{"domain":[0,0.4],"nice":false},"axis":{"orient":"right","values":[0,0.1,0.2,0.3,0.4],"format":".1f","title":"Relative frequency","titleAngle":270,"titleBaseline":"top","labelOverlap":false}}}},
   {"layer":[
    {"data":{"name":"N_pmf"},"mark":{"type":"line","color":"black","strokeWidth":1.3,"interpolate":"monotone"},"encoding":{"x":{"field":"x","type":"quantitative","scale":{"domain":[0,30],"nice":false},"axis":{"values":[0,5,10,15,20,25,30],"title":"# new boutons","labelOverlap":false}},"y":{"field":"pmf","type":"quantitative","scale":{"domain":[0,0.8],"nice":false},"axis":{"orient":"left","values":[0,0.2,0.4,0.6,0.8],"format":".1f","title":"Probability mass function","labelOverlap":false}}}},
    {"data":{"values":[{}]},"mark":{"type":"text","text":"PM rl.RNAi","align":"left","baseline":"middle","fontSize":9,"fontWeight":"bold","fontStyle":"italic"},"encoding":{"x":{"datum":10.9,"type":"quantitative","axis":{"values":[0,5,10,15,20,25,30],"title":"# new boutons","labelOverlap":false}},"y":{"datum":0.73,"type":"quantitative","axis":{"orient":"left","values":[0,0.2,0.4,0.6,0.8],"format":".1f","title":"Probability mass function","labelOverlap":false}}}},
    {"data":{"values":[{}]},"mark":{"type":"point","shape":"M-1,0.1V-0.12H-0.8V0.1H-0.6V-0.12H-0.4V0.1H-0.2V-0.12H0V0.1H1","size":676,"filled":false,"color":"#555","strokeWidth":1,"opacity":1},"encoding":{"x":{"datum":14.3,"type":"quantitative","axis":{"values":[0,5,10,15,20,25,30],"title":"# new boutons","labelOverlap":false}},"y":{"datum":0.63,"type":"quantitative","axis":{"orient":"left","values":[0,0.2,0.4,0.6,0.8],"format":".1f","title":"Probability mass function","labelOverlap":false}}}},
    {"data":{"values":[{}]},"mark":{"type":"text","text":["k=3.623","m=5.75","Var (m+m²/k)=14.88","LogL=-21.199"],"align":"left","baseline":"top","fontSize":7,"fontWeight":"bold","lineHeight":7.2},"encoding":{"x":{"datum":10.9,"type":"quantitative","axis":{"values":[0,5,10,15,20,25,30],"title":"# new boutons","labelOverlap":false}},"y":{"datum":0.575,"type":"quantitative","axis":{"orient":"left","values":[0,0.2,0.4,0.6,0.8],"format":".1f","title":"Probability mass function","labelOverlap":false}}}}
   ]}
  ]}
 ]}
]
}
